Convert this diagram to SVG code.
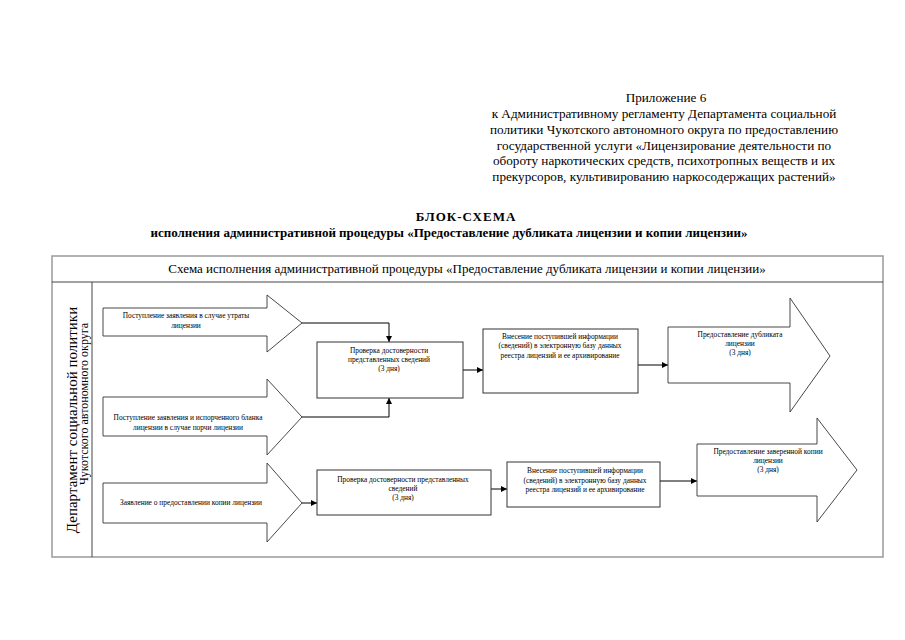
<svg xmlns="http://www.w3.org/2000/svg" width="905" height="640" viewBox="0 0 905 640">
<style>
.t{font-family:"Liberation Serif","Times New Roman",serif;fill:#000}
.hd{font-size:13.2px}
.bt{font-size:13px;font-weight:bold}
.sm{font-size:7.4px}
.box{fill:#fff;stroke:#333;stroke-width:1}
.arr{fill:#fff;stroke:#333;stroke-width:0.9}
.frame{fill:none;stroke:#999;stroke-width:1.5}
.inner{fill:none;stroke:#444;stroke-width:1}
.con{fill:none;stroke:#000;stroke-width:1}
</style>
<defs>
<marker id="ah" viewBox="0 0 10 10" refX="10" refY="5" markerWidth="6" markerHeight="6" orient="auto" markerUnits="userSpaceOnUse">
<path d="M0,0 L10,5 L0,10 z" fill="#000"/>
</marker>
</defs>
<rect width="905" height="640" fill="#fff"/>

<g id="header" class="t hd" text-anchor="middle">
<text x="666" y="102">Приложение 6</text>
<text x="664" y="118">к Административному регламенту Департамента социальной</text>
<text x="664" y="134">политики Чукотского автономного округа по предоставлению</text>
<text x="664" y="150">государственной услуги «Лицензирование деятельности по</text>
<text x="664" y="165">обороту наркотических средств, психотропных веществ и их</text>
<text x="664" y="181">прекурсоров, культивированию наркосодержащих растений»</text>
</g>

<g id="title" class="t bt" text-anchor="middle">
<text x="466" y="221" letter-spacing="1">БЛОК-СХЕМА</text>
<text x="449" y="237">исполнения административной процедуры «Предоставление дубликата лицензии и копии лицензии»</text>
</g>

<g id="frame">
<rect class="frame" x="52" y="256" width="831" height="301"/>
<line class="inner" x1="52" y1="282" x2="883" y2="282"/>
<line class="inner" x1="92" y1="282" x2="92" y2="557"/>
<text class="t" x="467" y="273" text-anchor="middle" font-size="13">Схема исполнения административной процедуры «Предоставление дубликата лицензии и копии лицензии»</text>
</g>

<g id="lane" class="t" text-anchor="middle">
<text transform="translate(77,420) rotate(-90)" font-size="15">Департамент социальной политики</text>
<text transform="translate(88,404) rotate(-90)" font-size="12">Чукотского автономного округа</text>
</g>

<g id="connectors">
<polyline class="con" points="302,323 389,323 389,342" marker-end="url(#ah)"/>
<polyline class="con" points="302,417 389,417 389,398" marker-end="url(#ah)"/>
<line class="con" x1="463" y1="370" x2="483" y2="370" marker-end="url(#ah)"/>
<line class="con" x1="638" y1="365" x2="668" y2="365" marker-end="url(#ah)"/>
<line class="con" x1="302" y1="503" x2="317" y2="503" marker-end="url(#ah)"/>
<line class="con" x1="491" y1="489" x2="507" y2="489" marker-end="url(#ah)"/>
<line class="con" x1="660" y1="481" x2="697" y2="481" marker-end="url(#ah)"/>
</g>

<g id="a1">
<polygon class="arr" points="103,308 267,308 267,295 302,323 267,352 267,336 103,336"/>
<text class="t sm" text-anchor="middle" x="186" y="318">Поступление заявления в случае утраты</text>
<text class="t sm" text-anchor="middle" x="186" y="328">лицензии</text>
</g>

<g id="a2">
<polygon class="arr" points="103,397 267,397 267,379 302,417 267,455 267,436 103,436"/>
<text class="t sm" text-anchor="middle" x="188" y="420">Поступление заявления и испорченного бланка</text>
<text class="t sm" text-anchor="middle" x="188" y="430">лицензии в случае порчи лицензии</text>
</g>

<g id="a3">
<polygon class="arr" points="103,483 267,483 267,463 302,503 267,542 267,523 103,523"/>
<text class="t sm" text-anchor="middle" x="191" y="505">Заявление о предоставлении копии лицензии</text>
</g>

<g id="b1">
<rect class="box" x="317" y="342" width="146" height="56"/>
<text class="t sm" text-anchor="middle" x="389" y="353">Проверка достоверности</text>
<text class="t sm" text-anchor="middle" x="389" y="362">представленных сведений</text>
<text class="t sm" text-anchor="middle" x="389" y="371">(3 дня)</text>
</g>

<g id="b2">
<rect class="box" x="483" y="329" width="155" height="64"/>
<text class="t sm" text-anchor="middle" x="560" y="339">Внесение поступившей информации</text>
<text class="t sm" text-anchor="middle" x="560" y="348">(сведений) в электронную базу данных</text>
<text class="t sm" text-anchor="middle" x="560" y="358">реестра лицензий и ее архивирование</text>
</g>

<g id="a4">
<polygon class="arr" points="668,327 790,327 790,298 830,356 790,412 790,383 668,383"/>
<text class="t sm" text-anchor="middle" x="740" y="337">Предоставление дубликата</text>
<text class="t sm" text-anchor="middle" x="740" y="346">лицензии</text>
<text class="t sm" text-anchor="middle" x="740" y="355">(3 дня)</text>
</g>

<g id="b3">
<rect class="box" x="317" y="470" width="174" height="45"/>
<text class="t sm" text-anchor="middle" x="403" y="482">Проверка достоверности представленных</text>
<text class="t sm" text-anchor="middle" x="403" y="491">сведений</text>
<text class="t sm" text-anchor="middle" x="403" y="500">(3 дня)</text>
</g>

<g id="b4">
<rect class="box" x="507" y="462" width="153" height="45"/>
<text class="t sm" text-anchor="middle" x="585" y="473">Внесение поступившей информации</text>
<text class="t sm" text-anchor="middle" x="585" y="483">(сведений) в электронную базу данных</text>
<text class="t sm" text-anchor="middle" x="585" y="492">реестра лицензий и ее архивирование</text>
</g>

<g id="a5">
<polygon class="arr" points="697,444 817,444 817,418 857,470 817,522 817,496 697,496"/>
<text class="t sm" text-anchor="middle" x="768" y="454">Предоставление заверенной копии</text>
<text class="t sm" text-anchor="middle" x="768" y="463">лицензии</text>
<text class="t sm" text-anchor="middle" x="768" y="472">(3 дня)</text>
</g>
</svg>
